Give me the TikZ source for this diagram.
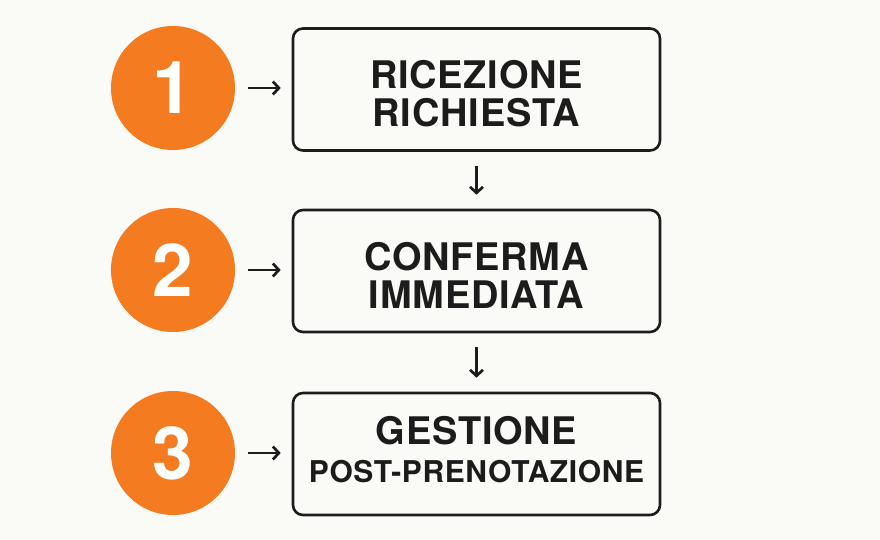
\documentclass[tikz,border=0pt]{standalone}
\usepackage{fontspec}
\setmainfont{TeX Gyre Heros}
\newfontfamily\lblfont[LetterSpace=2.0]{TeX Gyre Heros}
\usetikzlibrary{arrows.meta}
\definecolor{bg}{HTML}{FAFAF7}
\definecolor{orng}{HTML}{F47B20}
\definecolor{ink}{HTML}{1C1C1C}
\begin{document}
\begin{tikzpicture}[x=1pt,y=1pt,
  numc/.style={circle,fill=orng,minimum size=124pt,inner sep=0pt,text=white,font=\fontsize{73}{75}\selectfont\bfseries},
  stepbox/.style={draw=ink,line width=2.6pt,rounded corners=10pt,minimum width=367pt,minimum height=122pt},
  lbl/.style={align=center,inner sep=0pt,text=ink,font=\lblfont\fontsize{38}{38}\selectfont\bfseries},
  conn/.style={draw=ink,line width=2.7pt,-{Straight Barb[length=6pt,width=13pt,line width=2.7pt]}}]
\fill[bg] (0,0) rectangle (880,540);
\useasboundingbox (0,0) rectangle (880,540);
\node[numc] (c1) at (173,452) {1};
\node[numc] (c2) at (173,270) {2};
\node[numc] (c3) at (173,87) {3};
\node[stepbox] (b1) at (476.5,450.5) {};
\node[stepbox] (b2) at (476.5,269) {};
\node[stepbox] (b3) at (476.5,86) {};
\node[lbl] (t1) at ([yshift=-4.5pt]b1.center) {RICEZIONE\\RICHIESTA};
\node[lbl] (t2) at ([yshift=-4.5pt]b2.center) {CONFERMA\\IMMEDIATA};
\node[lbl] (t3) at ([yshift=4pt]b3.center) {GESTIONE\\{\fontsize{30}{38}\selectfont POST-PRENOTAZIONE}};
\draw[conn,shorten <=13pt,shorten >=11pt] (c1.east) -- (c1.east -| b1.west);
\draw[conn,shorten <=13pt,shorten >=11pt] (c2.east) -- (c2.east -| b2.west);
\draw[conn,shorten <=13pt,shorten >=11pt] (c3.east) -- (c3.east -| b3.west);
\draw[conn,shorten <=14pt,shorten >=14pt] (b1.south) -- (b2.north);
\draw[conn,shorten <=14pt,shorten >=14pt] (b2.south) -- (b3.north);
\end{tikzpicture}
\end{document}
